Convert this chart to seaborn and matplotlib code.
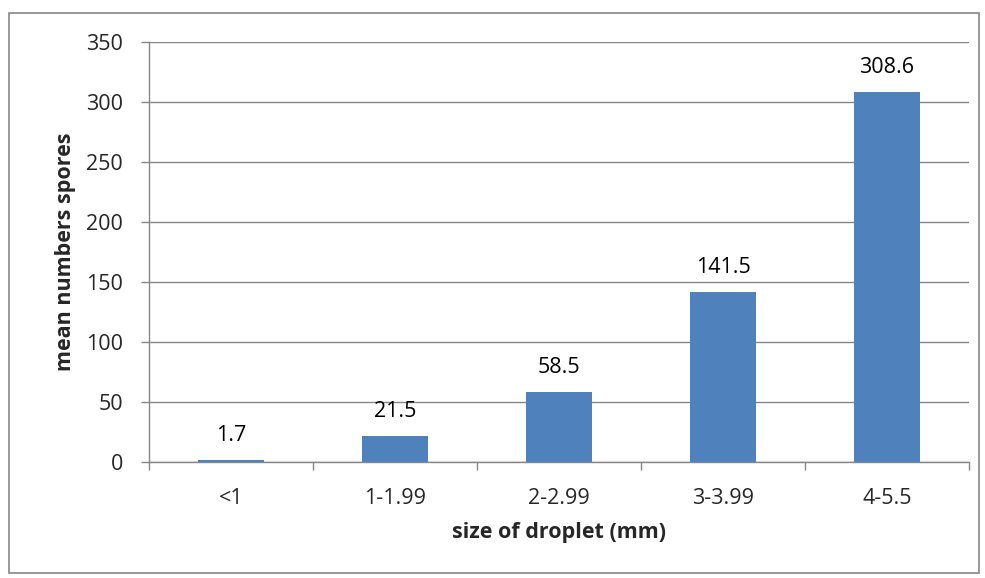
import matplotlib
matplotlib.use("Agg")
import matplotlib.pyplot as plt
import seaborn as sns
import pandas as pd
from matplotlib.patches import Rectangle

categories = ["<1", "1-1.99", "2-2.99", "3-3.99", "4-5.5"]
values = [1.7, 21.5, 58.5, 141.5, 308.6]
value_labels = ["1.7", "21.5", "58.5", "141.5", "308.6"]
yticks = [0, 50, 100, 150, 200, 250, 300, 350]

sns.set_theme(style="white")
plt.rcParams["font.family"] = ["Open Sans", "DejaVu Sans"]

df = pd.DataFrame({"size": categories, "mean": values})

fig = plt.figure(figsize=(9.85, 5.78), dpi=100)
W, H = 985, 578
ax = fig.add_axes([149 / W, 1 - 462 / H, (969 - 149) / W, (462 - 42) / H])

sns.barplot(data=df, x="size", y="mean", color="#4F81BD", width=0.40,
            saturation=1, ax=ax, edgecolor="none")

FS = 15.5
TL = 5.8  # 8 px tick length
ax.set_ylim(0, 350)
ax.set_xlim(-0.5, 4.5)
ax.set_yticks(yticks)
ax.yaxis.grid(True, color="#868686", linewidth=1.0)
ax.set_axisbelow(True)
for s in ["top", "right"]:
    ax.spines[s].set_visible(False)
for s in ["left", "bottom"]:
    ax.spines[s].set_color("#868686")
    ax.spines[s].set_linewidth(1.0)

ax.tick_params(axis="y", which="major", direction="out", length=TL, width=1,
               color="#868686", labelsize=FS, pad=13, left=True)
ax.tick_params(axis="x", which="major", length=0, labelsize=FS, pad=19)
ax.set_xticks(range(len(categories)))
ax.set_xticklabels(categories)
ax.set_xticks([i - 0.5 for i in range(len(categories) + 1)], minor=True)
ax.tick_params(axis="x", which="minor", direction="out", length=TL, width=1,
               color="#868686", bottom=True)

for i, (v, lab) in enumerate(zip(values, value_labels)):
    ax.annotate(lab, (i, v), xytext=(0, 13.7), textcoords="offset points",
                ha="center", va="baseline", fontsize=FS, color="black")

ax.set_xlabel("size of droplet (mm)", fontsize=FS, fontweight="bold", labelpad=9)
ax.set_ylabel("mean numbers spores", fontsize=FS, fontweight="bold", labelpad=7)

fig.patches.append(Rectangle((9 / W, 1 - 573 / H), (979 - 9) / W, (573 - 13) / H,
                             transform=fig.transFigure, fill=False,
                             edgecolor="#868686", linewidth=1.2))

fig.savefig("out.png", dpi=100, facecolor="white")
